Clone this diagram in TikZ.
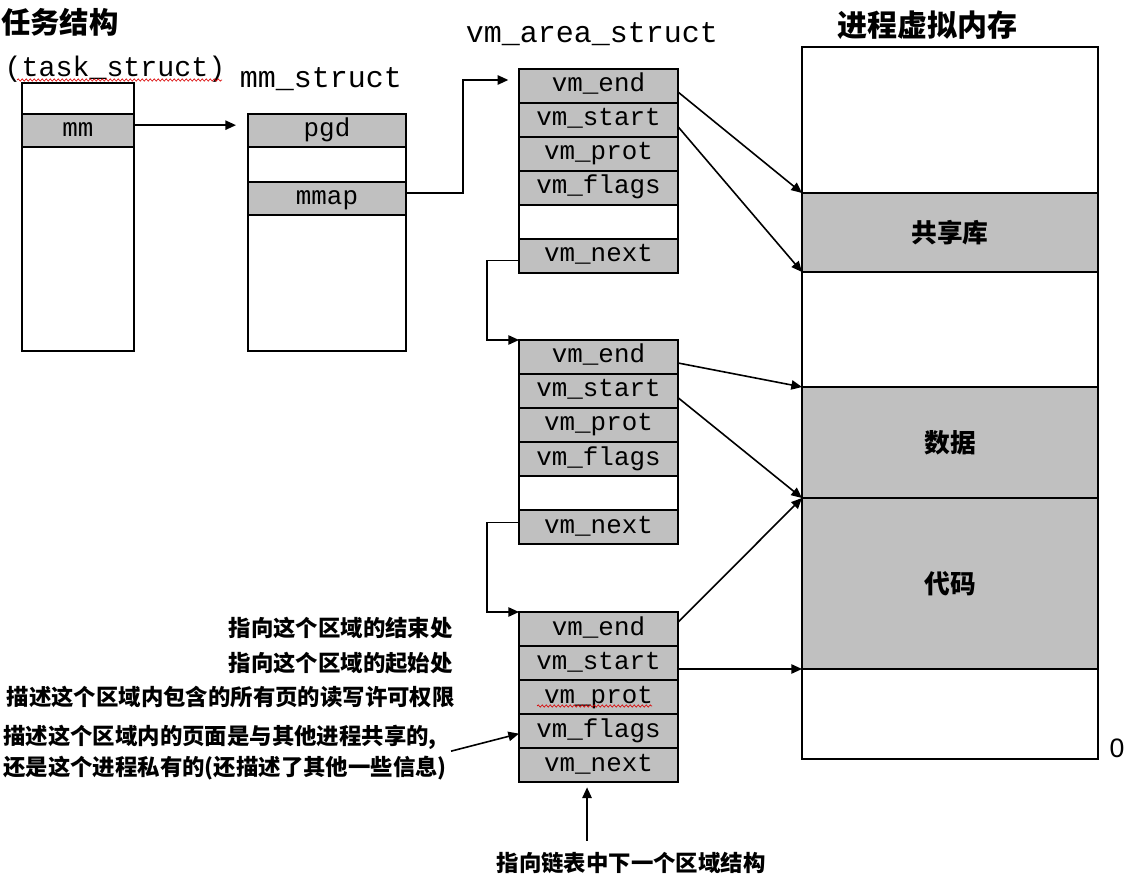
\documentclass[tikz,border=0pt]{standalone}
\usepackage{fontspec}
\setmainfont{Liberation Sans}
\newfontfamily\cjk{Noto Sans CJK SC}
\newfontfamily\mono{Liberation Mono}
\usetikzlibrary{arrows.meta,decorations.pathmorphing}
\definecolor{cellgray}{RGB}{192,192,192}
\begin{document}
\begin{tikzpicture}[x=0.75pt,y=-0.75pt,
  cellbox/.style={draw=black, line width=1.3pt, inner sep=0pt, outer sep=0pt, anchor=north west, fill=white},
  gcell/.style={cellbox, fill=cellgray},
  sz/.style 2 args={minimum width={#1*0.75pt}, minimum height={#2*0.75pt}},
  mtext/.style={font=\mono\fontsize{19.4}{20}\selectfont, text height=12pt, text depth=3pt},
  ctext/.style={font=\cjk\bfseries\fontsize{19.3}{22}\selectfont},
  ann/.style={font=\cjk\bfseries\fontsize{16.8}{23.25}\selectfont, inner sep=0pt},
  ttl/.style={font=\mono\fontsize{22.5}{24}\selectfont, anchor=base, inner sep=0pt},
  arr/.style={draw=black, line width=1.2pt, -{Triangle[length=8pt,width=7pt]}},
  squig/.style={draw=red!85!black, line width=0.5pt, decorate, decoration={snake, amplitude=0.8pt, segment length=3pt}}
]
\useasboundingbox (0,0) rectangle (1136,884);

% titles
\node[font=\cjk\bfseries\fontsize{22}{24}\selectfont] (tscn) at (60,22) {任务结构};
\node[ttl, font=\mono\fontsize{21.2}{24}\selectfont] (tstitle) at (115,77) {(task\_struct)};
\node[ttl] (mmtitle) at (321,88) {mm\_struct};
\node[ttl] (vmtitle) at (592,43) {vm\_area\_struct};
\node[font=\cjk\bfseries\fontsize{22.5}{24}\selectfont] (memtitle) at (927,25) {进程虚拟内存};

% task_struct
\node[cellbox, sz={112}{31}] (ts0) at (22,83) {};
\node[gcell, sz={112}{33}, mtext] (tsmm) at (ts0.south west) {mm};
\node[cellbox, sz={112}{204}] (ts2) at (tsmm.south west) {};

% mm_struct
\node[gcell, sz={158}{33}, mtext] (mm0) at (248,114) {pgd};
\node[cellbox, sz={158}{35}] (mm1) at (mm0.south west) {};
\node[gcell, sz={158}{33}, mtext] (mm2) at (mm1.south west) {mmap};
\node[cellbox, sz={158}{136}] (mm3) at (mm2.south west) {};

% vm_area_struct 1
\node[gcell, sz={159}{34}, mtext] (v1end) at (519,69) {vm\_end};
\node[gcell, sz={159}{34}, mtext] (v1start) at (v1end.south west) {vm\_start};
\node[gcell, sz={159}{34}, mtext] (v1prot) at (v1start.south west) {vm\_prot};
\node[gcell, sz={159}{34}, mtext] (v1flags) at (v1prot.south west) {vm\_flags};
\node[cellbox, sz={159}{34}] (v1gap) at (v1flags.south west) {};
\node[gcell, sz={159}{34}, mtext] (v1next) at (v1gap.south west) {vm\_next};

% vm_area_struct 2
\node[gcell, sz={159}{34}, mtext] (v2end) at (519,340) {vm\_end};
\node[gcell, sz={159}{34}, mtext] (v2start) at (v2end.south west) {vm\_start};
\node[gcell, sz={159}{34}, mtext] (v2prot) at (v2start.south west) {vm\_prot};
\node[gcell, sz={159}{34}, mtext] (v2flags) at (v2prot.south west) {vm\_flags};
\node[cellbox, sz={159}{34}] (v2gap) at (v2flags.south west) {};
\node[gcell, sz={159}{34}, mtext] (v2next) at (v2gap.south west) {vm\_next};

% vm_area_struct 3
\node[gcell, sz={159}{34}, mtext] (v3end) at (519,612) {vm\_end};
\node[gcell, sz={159}{34}, mtext] (v3start) at (v3end.south west) {vm\_start};
\node[gcell, sz={159}{34}, mtext] (v3prot) at (v3start.south west) {vm\_prot};
\node[gcell, sz={159}{34}, mtext] (v3flags) at (v3prot.south west) {vm\_flags};
\node[gcell, sz={159}{34}, mtext] (v3next) at (v3flags.south west) {vm\_next};

% process virtual memory
\node[cellbox, sz={296}{146}] (mtop) at (802,47) {};
\node[gcell, sz={296}{79}, ctext] (shlib) at (mtop.south west) {共享库};
\node[cellbox, sz={296}{115}] (mmid) at (shlib.south west) {};
\node[gcell, sz={296}{111}, ctext] (data) at (mmid.south west) {数据};
\node[gcell, sz={296}{171}, ctext] (code) at (data.south west) {代码};
\node[cellbox, sz={296}{90}] (mbot) at (code.south west) {};
\node[font=\fontsize{20}{22}\selectfont, inner sep=0pt] (zero) at (1117,748) {0};

% annotations
\node[ann, anchor=east] (a1) at (453,628) {指向这个区域的结束处};
\node[ann, anchor=east] (a2) at (453,663) {指向这个区域的起始处};
\node[ann, anchor=east] (a3) at (455,697) {描述这个区域内包含的所有页的读写许可权限};
\node[ann, anchor=west, align=left] (a4) at (3,752.5) {描述这个区域内的页面是与其他进程共享的,\\还是这个进程私有的(还描述了其他一些信息)};
\node[ann] (a5) at (631,863) {指向链表中下一个区域结构};

% spell-check squiggles
\draw[squig] (17,80) -- (222,80);
\draw[squig] (537,706) -- (652,706);

% connectors
\draw[arr] ([yshift=4pt]tsmm.east) -- ([yshift=4pt,xshift=-9pt]mm0.west);
\draw[arr] ([yshift=4pt]mm2.east) -- ++(57,0) |- ([xshift=-8pt,yshift=4.5pt]v1end.west);
\draw[arr] ([yshift=-3.5pt]v1next.west) -- ++(-32,0) |- (v2end.north west);
\draw[arr] ([yshift=3.5pt]v2next.west) -- ++(-32,0) |- (v3end.north west);

\draw[arr] ([yshift=-4.5pt]v1end.east) -- (shlib.north west);
\draw[arr] ([yshift=-5pt]v1start.east) -- (shlib.south west);
\draw[arr] ([yshift=-4.5pt]v2end.east) -- (data.north west);
\draw[arr] ([yshift=-5pt]v2start.east) -- (data.south west);
\draw[arr] ([yshift=5pt]v3end.east) -- (code.north west);
\draw[arr] (v3start.east |- code.south west) -- (code.south west);

\draw[arr] ([xshift=3pt,yshift=1pt]a4.east) -- ([yshift=-2pt]v3flags.west);
\draw[arr] ([xshift=-8.6pt,yshift=-44pt]v3next.south) -- ([xshift=-8.6pt,yshift=-4pt]v3next.south);
\end{tikzpicture}
\end{document}
